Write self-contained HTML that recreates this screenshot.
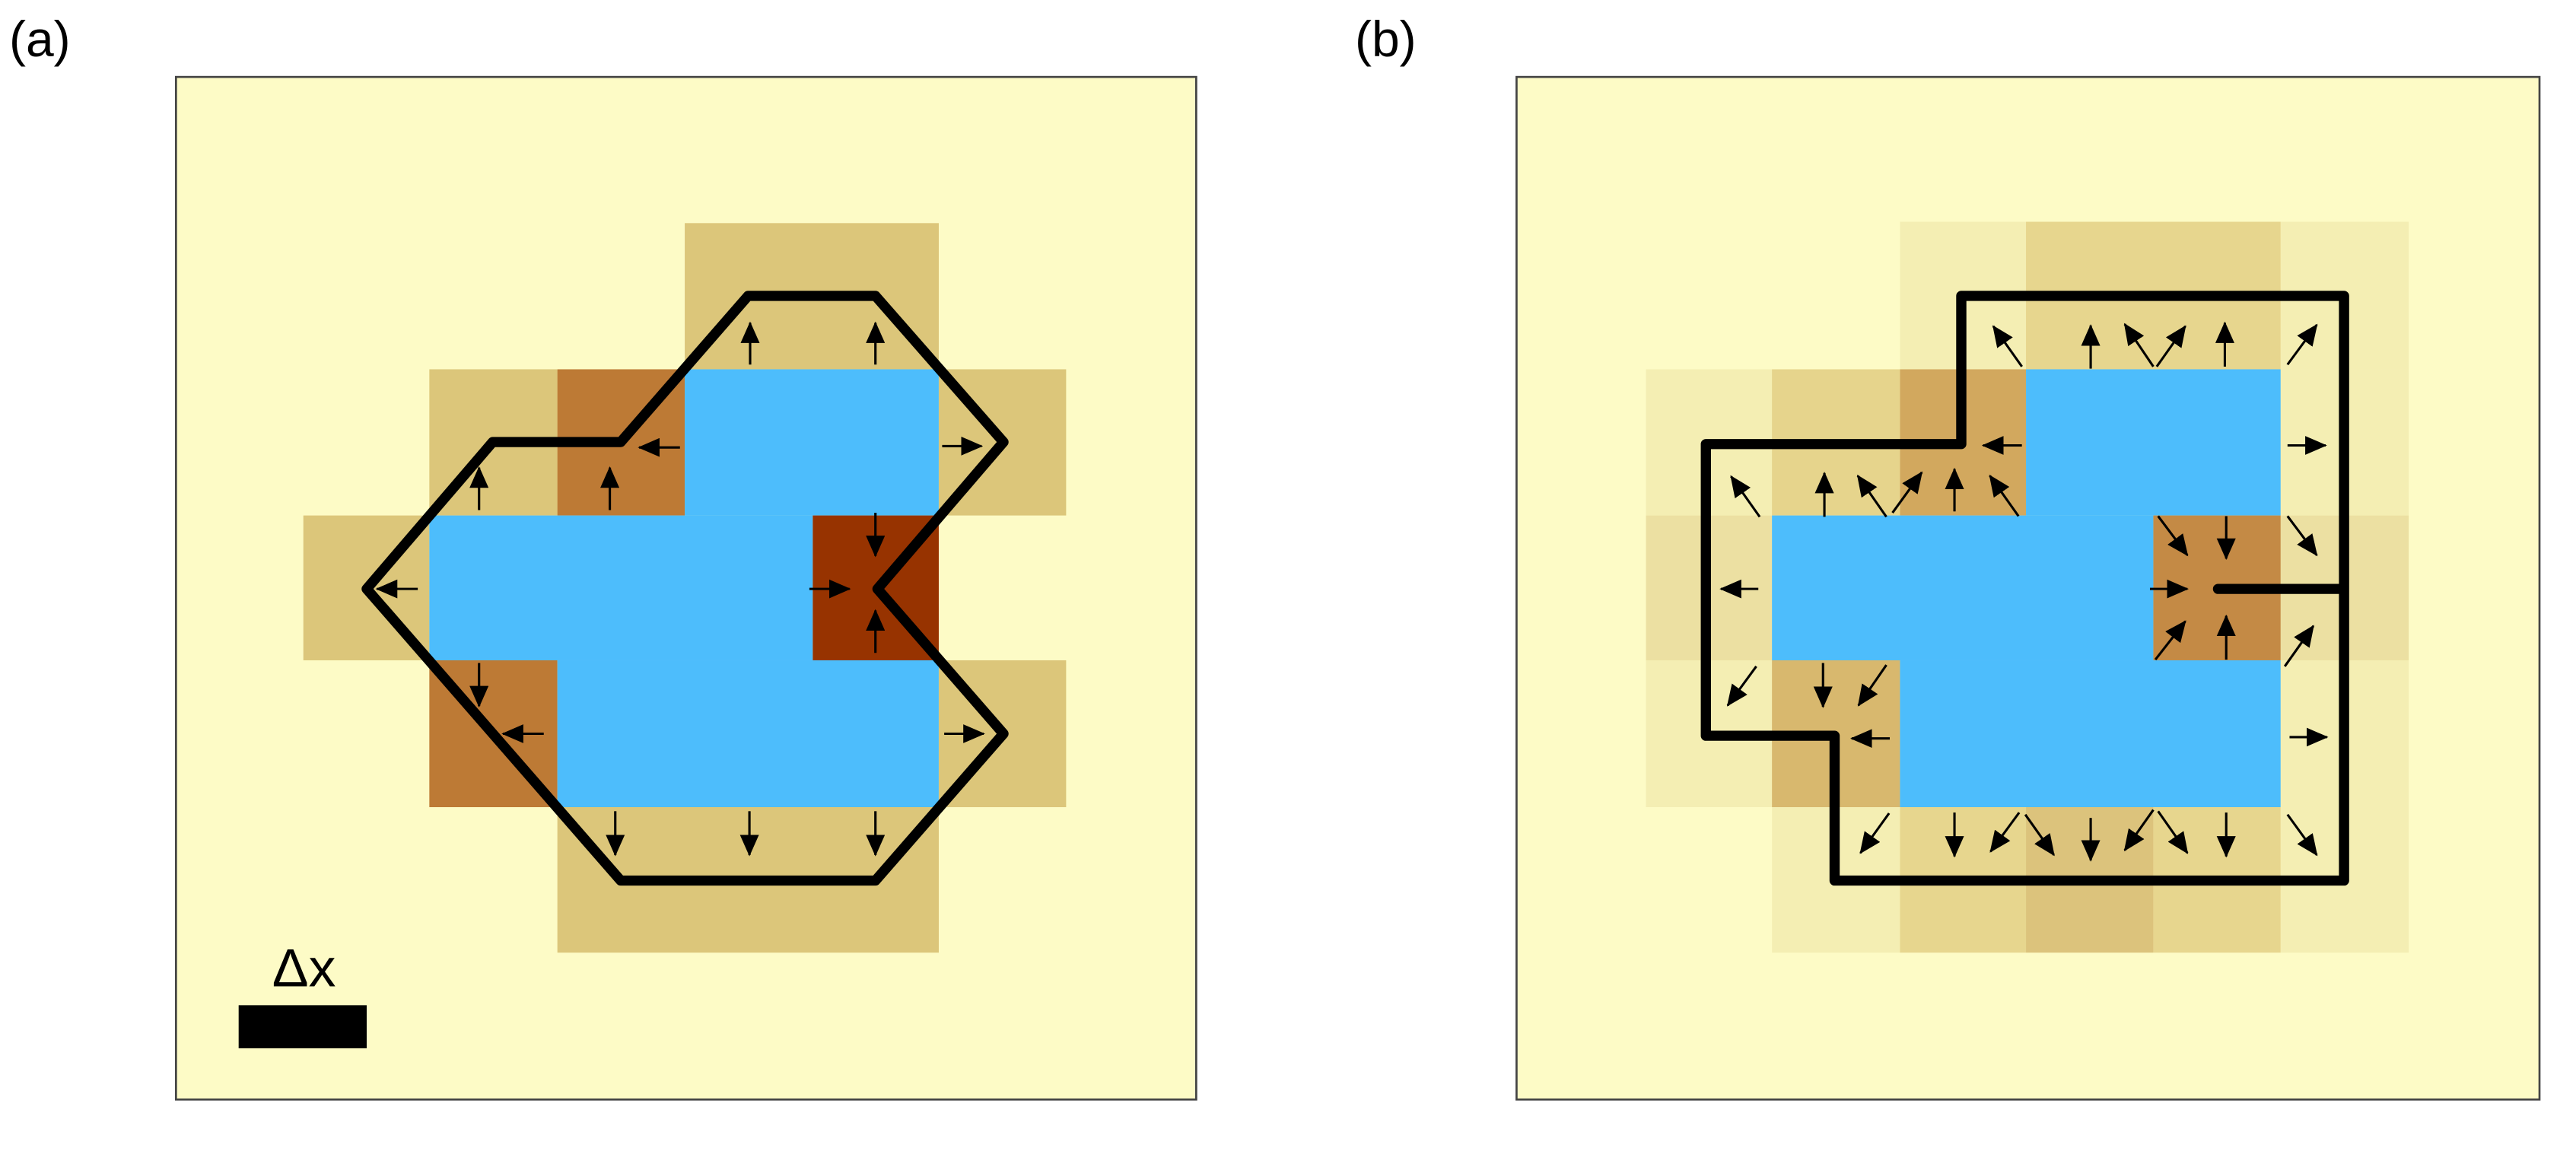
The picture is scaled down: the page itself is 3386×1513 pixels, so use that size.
<!DOCTYPE html>
<html><head><meta charset="utf-8"><style>
html,body{margin:0;padding:0;background:#fff;}
svg{display:block;}
text{font-family:"Liberation Sans","DejaVu Sans",sans-serif;}
</style></head><body>
<svg width="3386" height="1513" viewBox="0 0 3386 1513" xmlns="http://www.w3.org/2000/svg">
<defs>
<marker id="ah" markerWidth="32" markerHeight="28" refX="30" refY="14" orient="auto" markerUnits="userSpaceOnUse">
<path d="M0,0 L32,14 L0,28 Z" fill="#000"/></marker>
</defs>
<text x="12" y="74" font-size="66" fill="#000">(a)</text>
<text x="1781" y="74" font-size="66" fill="#000">(b)</text>

<!-- Panel a -->
<g transform="translate(200,79) scale(0.8952,0.8855)">
<rect x="35" y="25" width="1498" height="1518" fill="#fdfbc6" stroke="#444" stroke-width="3"/>
<g stroke="none">
<rect x="782" y="242" width="373" height="217" fill="#dcc67a"/>
<rect x="407" y="459" width="188" height="217" fill="#dcc67a"/>
<rect x="595" y="459" width="187" height="217" fill="#bd7a35"/>
<rect x="782" y="459" width="373" height="217" fill="#4dbdfc"/>
<rect x="1155" y="459" width="187" height="217" fill="#dcc67a"/>
<rect x="222" y="676" width="185" height="215" fill="#dcc67a"/>
<rect x="407" y="676" width="563" height="215" fill="#4dbdfc"/>
<rect x="970" y="676" width="185" height="215" fill="#973300"/>
<rect x="407" y="891" width="188" height="218" fill="#bd7a35"/>
<rect x="595" y="891" width="560" height="218" fill="#4dbdfc"/>
<rect x="1155" y="891" width="187" height="218" fill="#dcc67a"/>
<rect x="595" y="1109" width="560" height="216" fill="#dcc67a"/>
</g>
<polygon points="875,350 1062,350 1250,567 1065,785 1250,1000 1062,1218 688,1218 315,785 500,567 688,567" fill="none" stroke="#000" stroke-width="15" stroke-linejoin="round"/>
<g stroke="#000" stroke-width="3.5" marker-end="url(#ah)">
<line x1="878" y1="452" x2="878" y2="390"/>
<line x1="1062" y1="452" x2="1062" y2="390"/>
<line x1="1160" y1="573" x2="1218" y2="573"/>
<line x1="775" y1="575" x2="715" y2="575"/>
<line x1="480" y1="668" x2="480" y2="605"/>
<line x1="672" y1="668" x2="672" y2="605"/>
<line x1="390" y1="785" x2="330" y2="785"/>
<line x1="1062" y1="672" x2="1062" y2="736"/>
<line x1="965" y1="785" x2="1024" y2="785"/>
<line x1="1062" y1="880" x2="1062" y2="817"/>
<line x1="480" y1="895" x2="480" y2="959"/>
<line x1="575" y1="1000" x2="515" y2="1000"/>
<line x1="1163" y1="1000" x2="1221" y2="1000"/>
<line x1="680" y1="1115" x2="680" y2="1180"/>
<line x1="877" y1="1115" x2="877" y2="1180"/>
<line x1="1062" y1="1115" x2="1062" y2="1180"/>
</g>
<rect x="127" y="1403" width="188" height="64" fill="#000"/>
<text x="223" y="1375" font-size="80" text-anchor="middle" fill="#000">Δx</text>
</g>

<!-- Panel b -->
<g transform="translate(1980,79) scale(0.8952,0.8855)">
<rect x="15" y="25" width="1502" height="1518" fill="#fdfbc6" stroke="#444" stroke-width="3"/>
<g stroke="none">
<rect x="578" y="240" width="185" height="219" fill="#f4eeb3"/>
<rect x="763" y="240" width="374" height="219" fill="#e7d68e"/>
<rect x="1137" y="240" width="188" height="219" fill="#f4eeb3"/>
<rect x="205" y="459" width="185" height="217" fill="#f4eeb3"/>
<rect x="390" y="459" width="188" height="217" fill="#e6d48c"/>
<rect x="578" y="459" width="185" height="217" fill="#d2a85e"/>
<rect x="763" y="459" width="374" height="217" fill="#4dbdfc"/>
<rect x="1137" y="459" width="188" height="217" fill="#f4eeb3"/>
<rect x="205" y="676" width="185" height="215" fill="#ece0a2"/>
<rect x="390" y="676" width="560" height="215" fill="#4dbdfc"/>
<rect x="950" y="676" width="187" height="215" fill="#c48a45"/>
<rect x="1137" y="676" width="188" height="215" fill="#ece0a2"/>
<rect x="205" y="891" width="185" height="218" fill="#f4eeb3"/>
<rect x="390" y="891" width="188" height="218" fill="#d8b86e"/>
<rect x="578" y="891" width="559" height="218" fill="#4dbdfc"/>
<rect x="1137" y="891" width="188" height="218" fill="#f4eeb3"/>
<rect x="390" y="1109" width="188" height="216" fill="#f4eeb3"/>
<rect x="578" y="1109" width="185" height="216" fill="#e7d68e"/>
<rect x="763" y="1109" width="187" height="216" fill="#dcc37c"/>
<rect x="950" y="1109" width="187" height="216" fill="#e7d68e"/>
<rect x="1137" y="1109" width="188" height="216" fill="#f4eeb3"/>
</g>
<path d="M668,350 L1230,350 L1230,1218 L482,1218 L482,1003 L293,1003 L293,570 L668,570 Z M1045,785 L1230,785" fill="none" stroke="#000" stroke-width="15" stroke-linejoin="round" stroke-linecap="round"/>
<g stroke="#000" stroke-width="3.5" marker-end="url(#ah)">
<line x1="757" y1="455" x2="715" y2="395"/>
<line x1="858" y1="458" x2="858" y2="394"/>
<line x1="950" y1="455" x2="908" y2="392"/>
<line x1="955" y1="455" x2="997" y2="395"/>
<line x1="1055" y1="455" x2="1055" y2="390"/>
<line x1="1147" y1="452" x2="1190" y2="393"/>
<line x1="757" y1="572" x2="700" y2="572"/>
<line x1="1147" y1="572" x2="1203" y2="572"/>
<line x1="372" y1="678" x2="330" y2="618"/>
<line x1="467" y1="678" x2="467" y2="613"/>
<line x1="558" y1="678" x2="516" y2="617"/>
<line x1="567" y1="672" x2="610" y2="612"/>
<line x1="658" y1="670" x2="658" y2="607"/>
<line x1="752" y1="677" x2="710" y2="617"/>
<line x1="957" y1="677" x2="1000" y2="735"/>
<line x1="1057" y1="677" x2="1057" y2="740"/>
<line x1="1147" y1="677" x2="1190" y2="735"/>
<line x1="370" y1="785" x2="315" y2="785"/>
<line x1="945" y1="785" x2="1000" y2="785"/>
<line x1="953" y1="890" x2="997" y2="833"/>
<line x1="1057" y1="890" x2="1057" y2="825"/>
<line x1="1143" y1="900" x2="1185" y2="840"/>
<line x1="367" y1="900" x2="325" y2="958"/>
<line x1="465" y1="895" x2="465" y2="960"/>
<line x1="558" y1="898" x2="517" y2="958"/>
<line x1="563" y1="1007" x2="507" y2="1007"/>
<line x1="1150" y1="1005" x2="1205" y2="1005"/>
<line x1="562" y1="1118" x2="520" y2="1177"/>
<line x1="658" y1="1117" x2="658" y2="1182"/>
<line x1="753" y1="1117" x2="711" y2="1175"/>
<line x1="762" y1="1120" x2="804" y2="1180"/>
<line x1="858" y1="1125" x2="858" y2="1188"/>
<line x1="950" y1="1113" x2="908" y2="1173"/>
<line x1="957" y1="1115" x2="1000" y2="1177"/>
<line x1="1057" y1="1117" x2="1057" y2="1182"/>
<line x1="1147" y1="1120" x2="1190" y2="1180"/>
</g>
</g>
</svg>
</body></html>
